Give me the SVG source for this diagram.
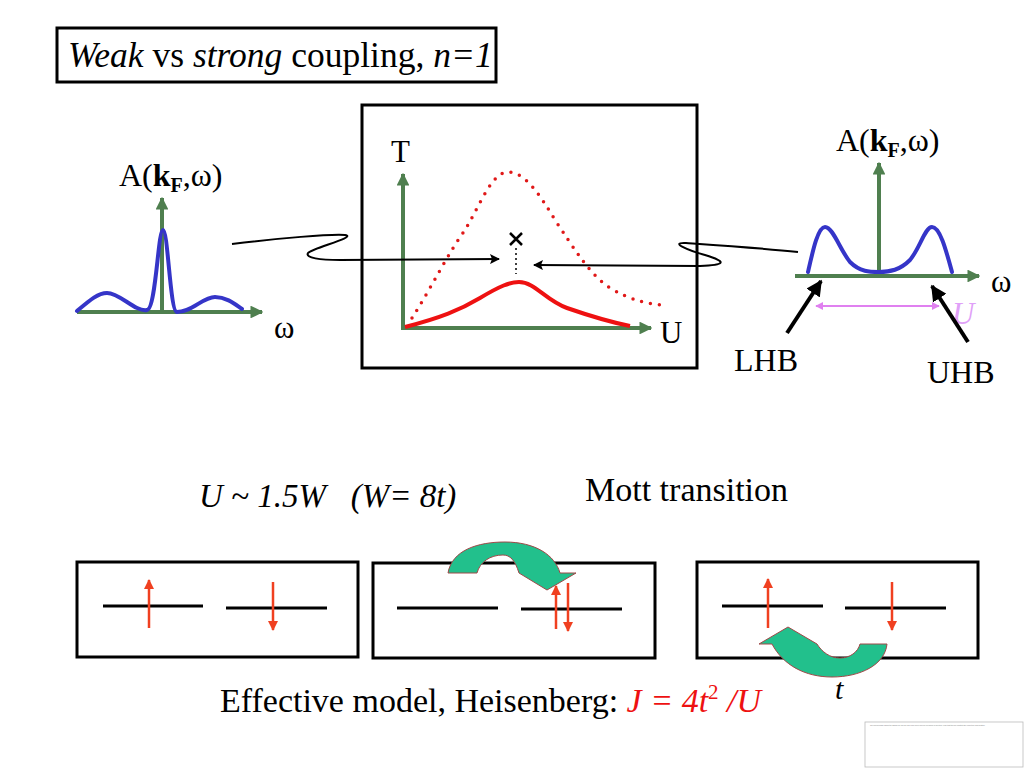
<svg xmlns="http://www.w3.org/2000/svg" width="1024" height="768" viewBox="0 0 1024 768">
<defs>
<style>
text{font-family:"Liberation Serif","Times New Roman",serif;fill:#000}
.it{font-style:italic}
.bf{font-weight:bold}
.box{fill:none;stroke:#000;stroke-width:3}
.axis{fill:none;stroke:#4f7f4f;stroke-width:4}
.spec{fill:none;stroke:#3535c8;stroke-width:4;stroke-linecap:round;stroke-linejoin:round}
.conn{fill:none;stroke:#000;stroke-width:2}
.lvl{stroke:#000;stroke-width:3}
.spin{stroke:#f04020;stroke-width:2.5}
.hop{fill:#22c08c;stroke:#a04848;stroke-width:1}
</style>
<marker id="ga" viewBox="0 0 10 10" refX="9" refY="5" markerWidth="3.2" markerHeight="3.2" orient="auto" markerUnits="strokeWidth"><path d="M0,0 L10,5 L0,10 Z" fill="#4f7f4f"/></marker>
<marker id="ka" viewBox="0 0 10 10" refX="9" refY="5" markerWidth="6" markerHeight="5" orient="auto" markerUnits="strokeWidth"><path d="M0,0 L10,5 L0,10 L2,5 Z" fill="#000"/></marker>
<marker id="kb" viewBox="0 0 10 10" refX="9" refY="5" markerWidth="4" markerHeight="4" orient="auto" markerUnits="strokeWidth"><path d="M0,0 L10,5 L0,10 Z" fill="#000"/></marker>
<marker id="ra" viewBox="0 0 10 10" refX="9" refY="5" markerWidth="4" markerHeight="4" orient="auto" markerUnits="strokeWidth"><path d="M0,0 L10,5 L0,10 Z" fill="#f04020"/></marker>
<marker id="va" viewBox="0 0 10 10" refX="9" refY="5" markerWidth="4" markerHeight="4" orient="auto-start-reverse" markerUnits="strokeWidth"><path d="M0,0 L10,5 L0,10 Z" fill="#e080f0"/></marker>
</defs>
<rect width="1024" height="768" fill="#fff"/>

<g id="title">
<rect class="box" x="57" y="28" width="439" height="54"/>
<text x="68" y="67" font-size="35.5"><tspan class="it">Weak</tspan> vs <tspan class="it">strong</tspan> coupling, <tspan class="it">n=1</tspan></text>
</g>

<g id="weak-spectrum">
<line class="axis" x1="77" y1="312" x2="262" y2="312" marker-end="url(#ga)"/>
<line class="axis" x1="162" y1="312" x2="162" y2="198" marker-end="url(#ga)"/>
<path class="spec" d="M77,311 C90,300 98,293 107,293 C120,293 135,312 147,310 C156,309 158,230 163,230 C168,230 170,312 177,312 C192,312 203,297 215,297 C227,297 236,305 242,309"/>
<text x="119" y="186" font-size="32">A(<tspan class="bf">k</tspan><tspan class="bf" font-size="20" dy="6">F</tspan><tspan dy="-6">,ω)</tspan></text>
<text x="274" y="338" font-size="31">ω</text>
</g>

<g id="phase-diagram">
<rect class="box" x="362" y="105" width="335" height="263"/>
<line class="axis" x1="403" y1="328" x2="403" y2="174" marker-end="url(#ga)"/>
<line class="axis" x1="401" y1="328" x2="651" y2="328" marker-end="url(#ga)"/>
<path d="M412,318 C430,290 450,250 465,230 C480,205 492,172 508,172 C525,172 540,195 555,220 C575,250 590,275 610,288 C630,300 650,305 667,305" fill="none" stroke="#e01818" stroke-width="3.5" stroke-linecap="round" stroke-dasharray="0 9"/>
<path d="M405,327 C440,318 460,310 480,298 C500,286 510,282 519,282 C535,282 545,300 567,308 C590,316 610,322 630,326" fill="none" stroke="#ee1111" stroke-width="4"/>
<path d="M510,233 L522,245 M522,233 L510,245" stroke="#000" stroke-width="2.5"/>
<line x1="516" y1="248" x2="516" y2="274" stroke="#000" stroke-width="1.5" stroke-dasharray="2 3"/>
<text x="391" y="162" font-size="31">T</text>
<text x="660" y="343" font-size="31">U</text>
</g>

<g id="strong-spectrum">
<line class="axis" x1="795" y1="276" x2="979" y2="276" marker-end="url(#ga)"/>
<line class="axis" x1="879" y1="276" x2="879" y2="163" marker-end="url(#ga)"/>
<path class="spec" d="M808,272 C813,250 818,227 825,227 C833,227 840,250 850,262 C860,272 870,272 879,272 C890,272 900,270 910,260 C920,248 925,227 932,227 C940,227 946,250 952,272"/>
<text x="836" y="151" font-size="32">A(<tspan class="bf">k</tspan><tspan class="bf" font-size="20" dy="6">F</tspan><tspan dy="-6">,ω)</tspan></text>
<text x="991" y="292" font-size="31">ω</text>
<line x1="816" y1="306" x2="939" y2="306" stroke="#e080f0" stroke-width="2" marker-start="url(#va)" marker-end="url(#va)"/>
<text class="it" x="952" y="324" font-size="31" style="fill:#e0a0f8">U</text>
<line x1="787" y1="333" x2="821" y2="281" stroke="#000" stroke-width="4" marker-end="url(#kb)"/>
<line x1="968" y1="342" x2="932" y2="286" stroke="#000" stroke-width="4" marker-end="url(#kb)"/>
<text x="734" y="371" font-size="32">LHB</text>
<text x="927" y="383" font-size="32">UHB</text>
</g>

<g id="connectors">
<path class="conn" d="M232,244 C280,238 330,234 345,235 C358,237 312,248 308,253 C305,258 320,260 340,260 L499,259" marker-end="url(#ka)"/>
<path class="conn" d="M798,252 C760,248 700,244 686,243 C668,242 690,251 705,255 C728,262 725,265 700,266 L534,265" marker-end="url(#ka)"/>
</g>

<g id="labels">
<text class="it" x="199" y="507" font-size="33" xml:space="preserve">U ~ 1.5W   (W= 8t)</text>
<text x="585" y="501" font-size="34">Mott transition</text>
</g>

<g id="site-weak">
<rect class="box" x="77" y="562" width="281" height="95"/>
<line class="lvl" x1="103" y1="606" x2="203" y2="606"/>
<line class="lvl" x1="226" y1="608" x2="327" y2="608"/>
<line class="spin" x1="149" y1="628" x2="149" y2="580" marker-end="url(#ra)"/>
<line class="spin" x1="273" y1="582" x2="273" y2="630" marker-end="url(#ra)"/>
</g>

<g id="site-double">
<rect class="box" x="373" y="563" width="282" height="95"/>
<line class="lvl" x1="397" y1="608" x2="498" y2="608"/>
<line class="lvl" x1="521" y1="609" x2="622" y2="609"/>
<line class="spin" x1="556" y1="629" x2="556" y2="586" marker-end="url(#ra)"/>
<line class="spin" x1="568" y1="583" x2="568" y2="631" marker-end="url(#ra)"/>
<path class="hop" d="M448,573 C452,550 478,542 505,542 C535,542 555,555 560,573 L576,573 L547,590 L519,573 C515,560 510,555 503,555 C490,555 480,562 477,573 Z"/>
</g>

<g id="site-strong">
<rect class="box" x="697" y="562" width="281" height="96"/>
<line class="lvl" x1="722" y1="606" x2="823" y2="606"/>
<line class="lvl" x1="845" y1="608" x2="946" y2="608"/>
<line class="spin" x1="768" y1="628" x2="768" y2="579" marker-end="url(#ra)"/>
<line class="spin" x1="892" y1="582" x2="892" y2="630" marker-end="url(#ra)"/>
<path class="hop" d="M887,644 C885,665 860,677 832,677 C805,677 783,665 772,644 L759,644 L788,627 L817,644 C822,652 830,658 840,658 C850,658 858,652 860,644 Z"/>
<text class="it" x="835" y="699" font-size="30">t</text>
</g>

<g id="effective-model">
<text x="220" y="712" font-size="34">Effective model, Heisenberg: <tspan class="it" style="fill:#ee1111">J = 4t</tspan><tspan style="fill:#ee1111" font-size="21" dy="-13">2</tspan><tspan class="it" style="fill:#ee1111" dy="13"> /U</tspan></text>
</g>

<g id="placeholder">
<rect x="865" y="722" width="158" height="45" fill="#fff" stroke="#bbb" stroke-width="0.8"/>
<text x="870" y="726" font-size="2" textLength="115" style="fill:#888;font-family:'Liberation Sans',sans-serif">The linked image cannot be displayed. The file may have been moved, renamed, or deleted. Verify that the link points to the correct file and location.</text>
</g>
</svg>
